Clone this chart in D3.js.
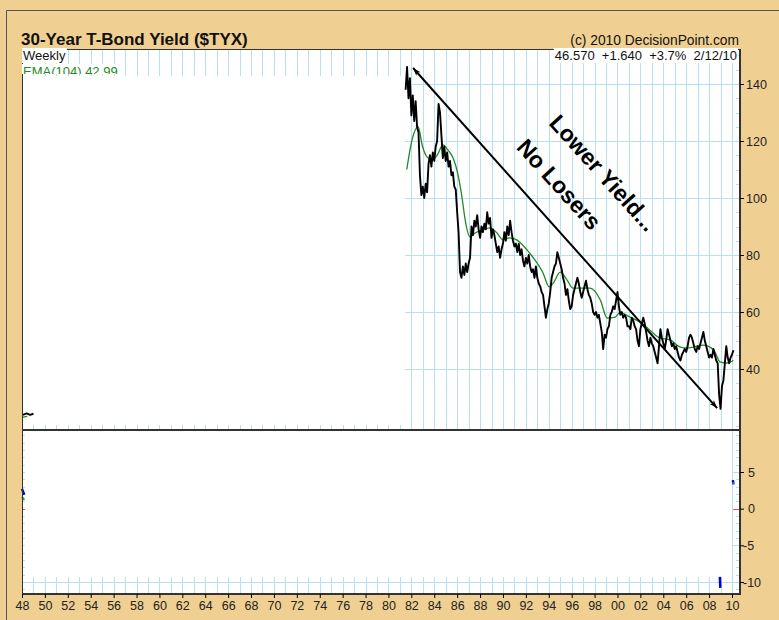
<!DOCTYPE html>
<html>
<head>
<meta charset="utf-8">
<script src="https://cdn.jsdelivr.net/npm/d3@7/dist/d3.min.js"></script>
<style>
  body { margin: 0; background: #f0d092; }
  svg { display: block; font-family: "Liberation Sans", Arial, sans-serif; }
</style>
</head>
<body>
<svg id="canvas" width="779" height="620"></svg>
<script>
// weekly close of $TYX (yield x10), sampled every 1/8 year from mid-1981
const weeklyStart = 1981.5;
const weeklyStep = 0.125;
const tyxWeekly = [
  138, 146, 135, 142,
  129, 136, 127, 134, 125, 123, 108, 101,
  104, 100, 105, 102, 112, 115, 111, 116,
  113, 118, 120, 133, 130, 122, 114, 118,
  113, 116, 111, 113, 108, 109, 104, 103,
  95, 88, 74, 72, 76, 73, 77, 74,
  77, 79, 90, 87, 92, 90, 94, 89,
  86, 90, 88, 91, 89, 95, 91, 93,
  86, 89, 87, 84, 81, 83, 79, 82,
  84, 88, 85, 90, 87, 92, 88, 85,
  83, 84, 81, 84, 80, 82, 78, 76,
  79, 77, 80, 76, 74, 75, 72, 76,
  72, 70, 69, 67, 66, 62, 58, 61,
  63, 67, 72, 74, 76, 77, 81, 79,
  77, 75, 72, 70, 66, 68, 64, 61,
  62, 66, 68, 70, 72, 70, 67, 65,
  67, 69, 71, 68, 66, 65, 63, 60,
  59, 60, 58, 59, 56, 53, 47, 52,
  51, 54, 55, 59, 60, 62, 61, 64,
  67, 62, 59, 60, 58, 59, 58, 55,
  55, 54, 58, 57, 55, 54, 50, 48,
  54, 56, 58, 56, 53, 50, 48, 51,
  49, 48, 46, 44, 42, 48, 54, 51,
  49, 47, 50, 54, 52, 50, 48, 49,
  47, 48, 46, 44, 43, 45, 46, 47,
  46, 48, 51, 52, 51, 49, 47, 46,
  48, 47, 49, 51, 53, 50, 48, 46,
  44, 45, 44, 47, 45, 43, 42, 31,
  26, 34, 36, 42, 48, 44, 42, 44,
  45, 46.6
];
// the stray 1948 stub at the left edge
const tyxEarly = [[1948.0, 23.8], [1948.4, 24.4], [1948.7, 23.9], [1949.0, 24.3]];

// EMA(104)
const ema104 = [
  [1981.6, 110], [1982.06, 120.4], [1982.6, 125], [1982.94, 118.6], [1983.37, 114.4],
  [1983.81, 113.3], [1984.25, 115], [1984.77, 118.6], [1985.2, 116.8], [1985.65, 114],
  [1986.08, 108], [1986.43, 100], [1986.7, 92.3], [1987.13, 86.3], [1987.56, 87.7],
  [1988.2, 88.8], [1988.87, 89.5], [1989.48, 87.7], [1990.0, 85.3], [1990.6, 86],
  [1991.2, 85.3], [1992.1, 81.8], [1992.6, 79.3], [1993.5, 73.7], [1994.03, 68.8],
  [1994.4, 70.2], [1995.0, 74], [1995.6, 71.2], [1996.1, 68.4], [1997.6, 68.4],
  [1998.5, 64.2], [1999.1, 57.9], [1999.8, 58.2], [2000.2, 59.8], [2001.1, 58.2],
  [2001.96, 56.5], [2002.8, 53.7], [2003.7, 50.9], [2004.6, 50.2], [2005.5, 47.7],
  [2006.1, 47.4], [2006.6, 47.7], [2007.5, 48.4], [2008.4, 46.7], [2008.96, 42.5],
  [2009.57, 42.1], [2010.12, 43]
];
const emaEarly = [[1948.0, 23.0], [1948.45, 23.4]];

// lower panel indicator fragments
const pmoBlue = [
  [[1948.0, 2.7], [1948.2, 1.9]],
  [[2008.94, -9.3], [2008.98, -10.8]],
  [[2010.08, 3.9], [2010.12, 3.3]]
];
const pmoGreen = [
  [[1948.0, 1.6], [1948.2, 1.2]],
  [[2010.1, 3.6], [2010.12, 3.4]]
];

const yearTicks = d3.range(1948, 2011, 2);
const upperTicks = [40, 60, 80, 100, 120, 140];
const lowerTicks = [-10, -5, 0, 5];

const arrowEnds = [[1982.15, 145.6], [2008.7, 26.3]];
const notes = [
  { text: "Lower Yield...", year: 1998.75, value: 108.8 },
  { text: "No Losers", year: 1994.9, value: 104.8 }
];

function chart() {
  const svg = d3.select("#canvas");
  const left = 22, right = 740, top = 49, split = 430, bottom = 594;
  const grid = "#b9e0f2";

  const x = d3.scaleLinear().domain([1948, 2010]).range([22, 732]);
  const yTop = d3.scaleLinear().domain([40, 140]).range([369, 84]);
  const yBot = d3.scaleLinear().domain([-10, 5]).range([582, 472]);

  // backdrop and outer frame
  svg.append("rect").attr("width", 779).attr("height", 620).attr("fill", "#f0d092");
  svg.append("path").attr("d", "M6.5,620V10.5H779").attr("fill", "none").attr("stroke", "#555");
  svg.append("rect")
    .attr("x", left).attr("y", top)
    .attr("width", right - left).attr("height", bottom - top)
    .attr("fill", "#fff");

  const defs = svg.append("defs");
  defs.append("clipPath").attr("id", "dataClip")
    .append("rect")
    .attr("x", x(1981.45)).attr("y", top)
    .attr("width", right - x(1981.45)).attr("height", split - top);
  defs.append("clipPath").attr("id", "upperClip")
    .append("rect").attr("x", left).attr("y", top).attr("width", right - left).attr("height", split - top);
  defs.append("clipPath").attr("id", "emaLabelClip")
    .append("rect").attr("x", left).attr("y", top).attr("width", 200).attr("height", 25);
  defs.append("marker")
    .attr("id", "head")
    .attr("viewBox", "0 0 10 10")
    .attr("refX", 10).attr("refY", 5)
    .attr("markerWidth", 11).attr("markerHeight", 8)
    .attr("markerUnits", "userSpaceOnUse")
    .attr("orient", "auto-start-reverse")
    .append("path").attr("d", "M0,1.5L10,5L0,8.5L2.5,5z").attr("fill", "#000");

  const years = d3.range(1948, 2011);

  // upper grid, only where there is data
  const gridG = svg.append("g").attr("clip-path", "url(#dataClip)")
    .attr("stroke", grid).attr("stroke-width", 1);
  gridG.selectAll("line.v").data(years).join("line").attr("class", "v")
    .attr("x1", (d) => Math.round(x(d)) + 0.5).attr("x2", (d) => Math.round(x(d)) + 0.5)
    .attr("y1", top).attr("y2", split);
  gridG.selectAll("line.h").data(upperTicks).join("line").attr("class", "h")
    .attr("x1", left).attr("x2", right)
    .attr("y1", (d) => Math.round(yTop(d)) + 0.5).attr("y2", (d) => Math.round(yTop(d)) + 0.5);

  // stubs of the grid along the panel edges
  const stubs = svg.append("g").attr("stroke", grid);
  stubs.selectAll("line.t").data(years).join("line").attr("class", "t")
    .attr("x1", (d) => Math.round(x(d)) + 0.5).attr("x2", (d) => Math.round(x(d)) + 0.5)
    .attr("y1", top).attr("y2", top + 27);
  stubs.selectAll("line.b").data(years).join("line").attr("class", "b")
    .attr("x1", (d) => Math.round(x(d)) + 0.5).attr("x2", (d) => Math.round(x(d)) + 0.5)
    .attr("y1", split - 5).attr("y2", split);
  stubs.selectAll("line.lb").data(years).join("line").attr("class", "lb")
    .attr("x1", (d) => Math.round(x(d)) + 0.5).attr("x2", (d) => Math.round(x(d)) + 0.5)
    .attr("y1", bottom - 17).attr("y2", bottom);
  stubs.append("line")
    .attr("x1", left).attr("x2", right)
    .attr("y1", Math.round(yBot(-10)) + 0.5).attr("y2", Math.round(yBot(-10)) + 0.5);
  stubs.append("line")
    .attr("x1", Math.round(x(2010)) + 0.5).attr("x2", Math.round(x(2010)) + 0.5)
    .attr("y1", split).attr("y2", bottom);
  stubs.selectAll("line.l5").data([5, -5]).join("line").attr("class", "l5")
    .attr("x1", right - 7).attr("x2", right)
    .attr("y1", (d) => Math.round(yBot(d)) + 0.5).attr("y2", (d) => Math.round(yBot(d)) + 0.5);

  // minor ticks inside the panels
  stubs.selectAll("line.mu").data(d3.range(20, 151, 5)).join("line").attr("class", "mu")
    .attr("x1", right - 4).attr("x2", right)
    .attr("y1", (d) => Math.round(yTop(d)) + 0.5).attr("y2", (d) => Math.round(yTop(d)) + 0.5)
    .attr("display", (d) => (yTop(d) > top && yTop(d) < split ? null : "none"));
  const minorLow = d3.range(-11, 11);
  stubs.selectAll("line.ml").data(minorLow).join("line").attr("class", "ml")
    .attr("x1", left).attr("x2", left + 3)
    .attr("y1", (d) => Math.round(yBot(d)) + 0.5).attr("y2", (d) => Math.round(yBot(d)) + 0.5);
  stubs.selectAll("line.mr").data(minorLow).join("line").attr("class", "mr")
    .attr("x1", right - 4).attr("x2", right)
    .attr("y1", (d) => Math.round(yBot(d)) + 0.5).attr("y2", (d) => Math.round(yBot(d)) + 0.5);

  // zero line stubs of the indicator
  svg.selectAll("line.zero").data([[left, left + 3], [right - 7, right]]).join("line")
    .attr("class", "zero")
    .attr("x1", (d) => d[0]).attr("x2", (d) => d[1])
    .attr("y1", Math.round(yBot(0)) + 0.5).attr("y2", Math.round(yBot(0)) + 0.5)
    .attr("stroke", "#e8661c");

  // price and EMA
  const weekly = tyxWeekly.map((v, i) => [weeklyStart + i * weeklyStep, v]);
  const line = d3.line().x((d) => x(d[0])).y((d) => yTop(d[1]));
  const smooth = d3.line().x((d) => x(d[0])).y((d) => yTop(d[1])).curve(d3.curveMonotoneX);
  const series = svg.append("g").attr("clip-path", "url(#upperClip)");
  series.selectAll("path.ema").data([ema104, emaEarly]).join("path").attr("class", "ema")
    .attr("d", smooth).attr("fill", "none").attr("stroke", "#1f8a24").attr("stroke-width", 1.3);
  series.selectAll("path.px").data([weekly, tyxEarly]).join("path").attr("class", "px")
    .attr("d", line).attr("fill", "none").attr("stroke", "#000").attr("stroke-width", 1.9)
    .attr("stroke-linejoin", "round");

  // lower panel fragments
  const lowLine = d3.line().x((d) => x(d[0])).y((d) => yBot(d[1]));
  svg.selectAll("path.pb").data(pmoBlue).join("path").attr("class", "pb")
    .attr("d", lowLine).attr("fill", "none").attr("stroke", "#0000e0").attr("stroke-width", 2.5);
  svg.selectAll("path.pg").data(pmoGreen).join("path").attr("class", "pg")
    .attr("d", lowLine).attr("fill", "none").attr("stroke", "#2aa02a").attr("stroke-width", 2);

  // trend arrow and notes
  svg.append("path")
    .attr("d", d3.line().x((d) => x(d[0])).y((d) => yTop(d[1]))(arrowEnds))
    .attr("stroke", "#000").attr("stroke-width", 2).attr("fill", "none")
    .attr("marker-start", "url(#head)").attr("marker-end", "url(#head)");
  svg.selectAll("text.note").data(notes).join("text").attr("class", "note")
    .attr("transform", (d) => `translate(${x(d.year)},${yTop(d.value)}) rotate(48)`)
    .attr("text-anchor", "middle").attr("dominant-baseline", "central")
    .attr("font-size", 23).attr("font-weight", "bold").attr("fill", "#000")
    .text((d) => d.text);

  // panel borders
  svg.append("rect")
    .attr("x", left + 0.5).attr("y", top + 0.5)
    .attr("width", right - left - 1).attr("height", bottom - top - 1)
    .attr("fill", "none").attr("stroke", "#333");
  svg.append("line").attr("x1", right).attr("x2", right).attr("y1", top).attr("y2", bottom + 1)
    .attr("stroke", "#333").attr("stroke-width", 2);
  svg.append("line").attr("x1", left).attr("x2", right + 1).attr("y1", bottom).attr("y2", bottom)
    .attr("stroke", "#333").attr("stroke-width", 2);
  svg.append("line").attr("x1", left).attr("x2", right).attr("y1", split).attr("y2", split)
    .attr("stroke", "#333").attr("stroke-width", 2);

  // axes
  const axisUp = svg.append("g").attr("transform", `translate(${right},0)`)
    .call(d3.axisRight(yTop).tickValues(upperTicks).tickSize(4).tickPadding(2));
  const axisLow = svg.append("g").attr("transform", `translate(${right},0)`)
    .call(d3.axisRight(yBot).tickValues(lowerTicks).tickSize(4).tickPadding(4).tickFormat((d) => String(d)));
  axisLow.selectAll(".tick text").attr("dx", (d) => (d < 0 ? -5 : 0));
  const axisX = svg.append("g").attr("transform", `translate(0,${bottom})`)
    .call(d3.axisBottom(x).tickValues(yearTicks).tickSize(4).tickPadding(3)
      .tickFormat((d) => String(d % 100).padStart(2, "0")));
  [axisUp, axisLow, axisX].forEach((g) => {
    g.select(".domain").remove();
    g.selectAll(".tick line").attr("stroke", "#000");
    g.selectAll(".tick text").attr("fill", "#222").attr("font-size", 12.5)
      .attr("font-family", "Liberation Sans, Arial, sans-serif");
  });

  // headers
  svg.append("text").attr("x", 21).attr("y", 45)
    .attr("font-size", 17).attr("font-weight", "bold").attr("fill", "#111")
    .text("30-Year T-Bond Yield ($TYX)");
  svg.append("text").attr("x", 739).attr("y", 45).attr("text-anchor", "end")
    .attr("font-size", 13.8).attr("fill", "#111")
    .text("(c) 2010 DecisionPoint.com");

  // in-panel labels on white boxes
  const labels = svg.append("g").attr("font-size", 13);
  const weeklyText = labels.append("text").attr("x", 23).attr("y", 60).attr("fill", "#111").text("Weekly");
  const emaG = labels.append("g").attr("clip-path", "url(#emaLabelClip)");
  const emaText = emaG.append("text").attr("x", 23).attr("y", 76).attr("fill", "#1f8a24").text("EMA(104) 42.99");
  const lastText = labels.append("text").attr("x", 737).attr("y", 60).attr("text-anchor", "end")
    .attr("fill", "#111").style("white-space", "pre")
    .text("46.570  +1.640  +3.7%  2/12/10");
  [[weeklyText, labels], [emaText, emaG], [lastText, labels]].forEach(([t, g]) => {
    const b = t.node().getBBox();
    g.insert("rect", () => t.node())
      .attr("x", b.x - 1).attr("y", b.y).attr("width", b.width + 2).attr("height", b.height)
      .attr("fill", "#fff");
  });
}

window.addEventListener("DOMContentLoaded", () => {
  chart();
});
</script>
</body>
</html>
